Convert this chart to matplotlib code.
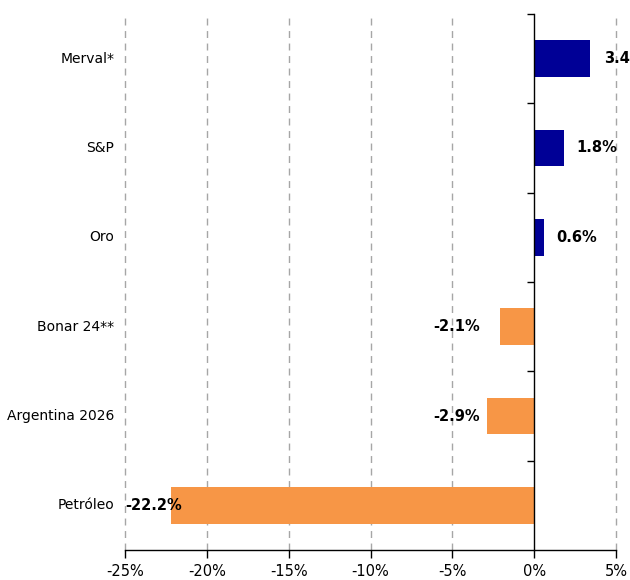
import matplotlib
matplotlib.use("Agg")
from matplotlib import pyplot as plt
from matplotlib.ticker import FixedLocator, FuncFormatter
import matplotlib.transforms as mtransforms

# DATA (top to bottom)
categories = ["Merval*", "S&P", "Oro", "Bonar 24**", "Argentina 2026", "Petróleo"]
values = [3.4, 1.8, 0.6, -2.1, -2.9, -22.2]
value_labels = ["3.4%", "1.8%", "0.6%", "-2.1%", "-2.9%", "-22.2%"]
x_ticks = [-25, -20, -15, -10, -5, 0, 5]

navy = "#000096"
orange = "#F79646"

plt.rcParams["font.family"] = ["DejaVu Sans"]

fig = plt.figure(figsize=(6.3, 5.8), dpi=100)
ax = fig.add_axes([0.1984, 0.0517, 0.7794, 0.9242])

pos = list(range(len(categories)))[::-1]
colors = [navy if v > 0 else orange for v in values]
ax.barh(pos, values, height=0.41, color=colors, zorder=3)

ax.set_xlim(-25, 5)
ax.set_ylim(-0.5, len(categories) - 0.5)

# GRID
for t in x_ticks:
    if t != 0:
        ax.axvline(t, color="#A6A6A6", lw=1, ls=(0, (5, 4)), zorder=1, clip_on=False)

# SPINES
ax.spines["top"].set_visible(False)
ax.spines["right"].set_visible(False)
ax.spines["left"].set_position(("data", 0))
ax.spines["left"].set_zorder(4)
ax.spines["left"].set_linewidth(1)
ax.spines["bottom"].set_linewidth(1)

ax.set_xticks(x_ticks)
ax.xaxis.set_major_formatter(FuncFormatter(lambda v, p: f"{v:.0f}%"))
ax.tick_params(axis="x", direction="out", length=6, width=1, labelsize=10.5, pad=4)

ax.yaxis.set_major_locator(FixedLocator([p + 0.5 for p in range(len(categories))]))
ax.set_yticklabels([])
ax.tick_params(axis="y", direction="out", length=5, width=1)

# CATEGORY LABELS
trans = mtransforms.blended_transform_factory(ax.transAxes, ax.transData)
for p, name in zip(pos, categories):
    ax.text(-0.022, p, name, transform=trans, ha="right", va="center", fontsize=10)

# VALUE LABELS
offsets = [10, 9, 9, -14, -5, 8]
for p, v, lab, off in zip(pos, values, value_labels, offsets):
    ha = "left" if v > 0 else "right"
    ax.annotate(lab, (v, p), xytext=(off, 0), textcoords="offset points",
                ha=ha, va="center", fontsize=10.5, fontweight="bold",
                zorder=5, annotation_clip=False)

fig.savefig("out.png", dpi=100)
